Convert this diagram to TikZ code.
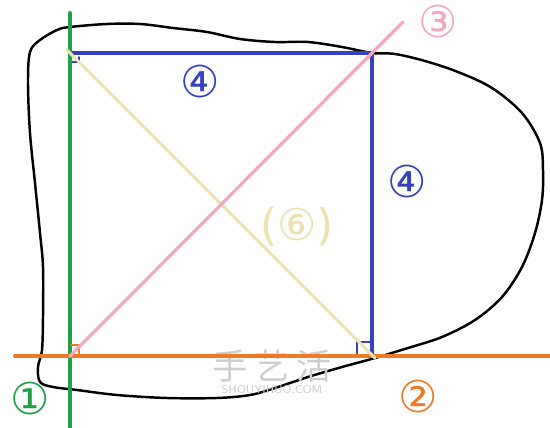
\documentclass[tikz,border=0pt]{standalone}
\usepackage{fontspec}
\newfontfamily\circfont{DejaVu Sans}
\newfontfamily\cjk{Noto Sans CJK SC}
\usetikzlibrary{calc}
\usetikzlibrary{positioning}
\definecolor{lnGreen}{RGB}{34,160,72}
\definecolor{lnOrange}{RGB}{240,122,36}
\definecolor{lnBlue}{RGB}{52,66,190}
\definecolor{lnPink}{RGB}{244,168,192}
\definecolor{lnYellow}{RGB}{236,226,176}
\definecolor{wmGray}{RGB}{205,205,205}
\newcommand{\circnode}[5]{\node[text=#4, inner sep=0pt] (#1) at ( #2 , #3 ) {\circfont\fontsize{25}{25}\selectfont #5};}

\begin{document}
\begin{tikzpicture}[x=0.02cm,y=-0.02cm,line cap=round,line join=round]
        \useasboundingbox (0,0) rectangle (550,428);
        %corners and line ends
        \coordinate (tl) at (70,53);
        \coordinate (tr) at (372,53);
        \coordinate (bl) at (70,356);
        \coordinate (br) at (372,356);
        \coordinate (gtop) at (70,13);
        \coordinate (gbot) at (70,430);
        \coordinate (oleft) at (15,356);
        \coordinate (oright) at (552,356);
        \coordinate (ptop) at (403,22);
        \coordinate (ystart) at (67,50);
        \coordinate (yend) at (375,358);
        %outline
        \draw[black, line width=1.4pt] plot[smooth cycle, tension=0.55] coordinates {
          (70,27) (107,24) (140,24) (173,28) (207,32) (240,39) (275,42) (308,42)
          (342,47) (372,53) (395,54) (425,61) (458,72) (492,88) (522,113) (540,143)
          (543,170) (542,200) (535,233) (522,267) (502,297) (475,320) (442,337)
          (408,348) (375,358) (342,367) (308,377) (275,388) (250,395) (217,398)
          (167,398) (117,395) (77,390) (53,387) (40,382) (38,367) (42,350)
          (43,317) (43,267) (40,233) (35,183) (30,133) (28,83) (30,52) (40,40) (57,30)};
        %watermark
        \node[text=wmGray, inner sep=0pt] (wmark) at (272,366) {\cjk\fontsize{20}{20}\selectfont 手\hspace{4pt}艺\hspace{4pt}活};
        \node[text=wmGray, inner sep=0pt, below=1.5pt of wmark] (wmurl) {\sffamily\fontsize{6.5}{7}\selectfont SHOUYIHUO.COM};
        %edges
        \draw[lnBlue, line width=2pt] (tl) -- (tr) -- (br);
        \draw[lnBlue, line width=1pt] ($(tl)+(2,9)$) -- ($(tl)+(9,9)$) -- ($(tl)+(9,4)$);
        \draw[lnBlue, line width=1pt] ($(br)+(-15,0)$) -- ($(br)+(-15,-14)$) -- ($(br)+(0,-14)$);
        \draw[lnGreen, line width=2.3pt] (gtop) -- (gbot);
        \draw[lnOrange, line width=2.3pt] (oleft) -- (oright);
        \draw[lnOrange, line width=1pt] ($(bl)+(1,-11)$) -- ($(bl)+(9,-11)$) -- ($(bl)+(9,-1)$);
        \draw[lnYellow, line width=1.8pt] (ystart) -- (yend);
        \draw[lnPink, line width=1.8pt] (bl) -- (ptop);
        %labels
        \circnode{numone}{30}{398}{lnGreen}{①}
        \circnode{numtwo}{418}{396}{lnOrange}{②}
        \circnode{numthree}{438}{22}{lnPink}{③}
        \circnode{numfourtop}{200}{82}{lnBlue}{④}
        \circnode{numfourside}{407}{182}{lnBlue}{④}
        \circnode{numsix}{297}{227}{lnYellow}{(⑥)}
\end{tikzpicture}
\end{document}
